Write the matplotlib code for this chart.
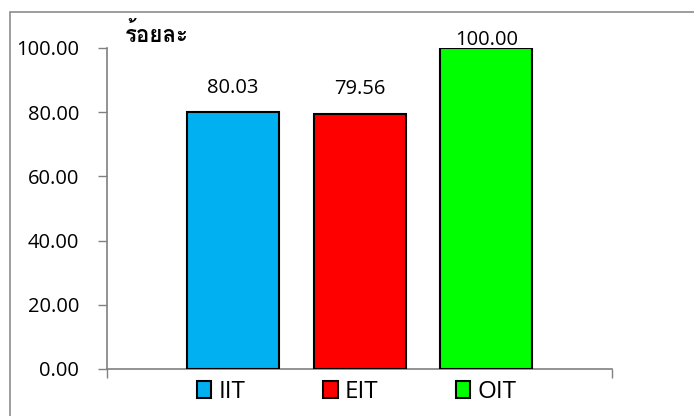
import matplotlib
matplotlib.use("Agg")
import matplotlib.pyplot as plt
from matplotlib import font_manager
from matplotlib.patches import Rectangle, Patch

series = ["IIT", "EIT", "OIT"]
values = [80.03, 79.56, 100.00]
colors = ["#00B0F0", "#FF0000", "#00FF00"]
yticks = [0, 20, 40, 60, 80, 100]
unit_label = "ร้อยละ"

# find a font with Thai coverage
thai_font = None
try:
    from fontTools.ttLib import TTFont
    for f in font_manager.fontManager.ttflist:
        try:
            tt = TTFont(f.fname, fontNumber=0, lazy=True)
            cmap = tt.getBestCmap()
            if cmap and 0x0E23 in cmap and 0x0E49 in cmap:
                thai_font = f.name
                break
        except Exception:
            pass
except Exception:
    pass
thai_family = [thai_font, "DejaVu Sans"] if thai_font else ["DejaVu Sans"]

plt.rcParams["font.family"] = ["Open Sans", "DejaVu Sans"]
W, H = 694, 416
fig = plt.figure(figsize=(W / 100, H / 100), dpi=100)
ax = fig.add_axes([107 / W, (H - 369) / H, (612 - 107) / W, (369 - 48) / H])

bar_w = 92 / 505
gap = 35 / 505
n = len(series)
total = n * bar_w + (n - 1) * gap
start = 0.5 - total / 2
ymax = 100
for i, (s, v, c) in enumerate(zip(series, values, colors)):
    x = start + i * (bar_w + gap)
    ax.bar(x, v, width=bar_w, align="edge", color=c, edgecolor="black",
           linewidth=1.5, label=s, zorder=3)
    off = 14 if v < ymax - 5 else 2.5
    ax.annotate(f"{v:.2f}", (x + bar_w / 2, v), xytext=(0, off),
                textcoords="offset points", ha="center", va="baseline",
                fontsize=14.5, color="black")

ax.set_xlim(0, 1)
ax.set_ylim(0, ymax)
ax.set_yticks(yticks)
ax.set_yticklabels([f"{t:.2f}" for t in yticks], fontsize=14.5)
ax.set_xticks([0, 1])
ax.set_xticklabels([])
ax.tick_params(axis="y", direction="out", length=6.5, width=1, color="#808080", pad=13.5)
ax.tick_params(axis="x", direction="out", length=6.5, width=1, color="#808080")
for sp in ["top", "right"]:
    ax.spines[sp].set_visible(False)
for sp in ["left", "bottom"]:
    ax.spines[sp].set_color("#808080")
    ax.spines[sp].set_linewidth(1.2)

fig.text(125 / W, (H - 42) / H, unit_label, family=thai_family, fontsize=16,
         fontweight="bold", ha="left", va="baseline")

handles = [Patch(facecolor=c, edgecolor="black", linewidth=1.5) for c in colors]
fig.legend(handles, series, loc="center", bbox_to_anchor=(357 / W, (H - 392) / H),
           ncol=3, frameon=False, fontsize=17.5, handlelength=0.58, handleheight=0.7,
           handletextpad=0.3, columnspacing=3.2, borderpad=0, borderaxespad=0)

# outer chart border (left/top visible)
fig.add_artist(Rectangle((9.5 / W, -0.1), 1.2, (H - 11.5) / H + 0.1,
                         transform=fig.transFigure, fill=False,
                         edgecolor="#8C8C8C", linewidth=1.2))

fig.savefig("out.png", dpi=100)
